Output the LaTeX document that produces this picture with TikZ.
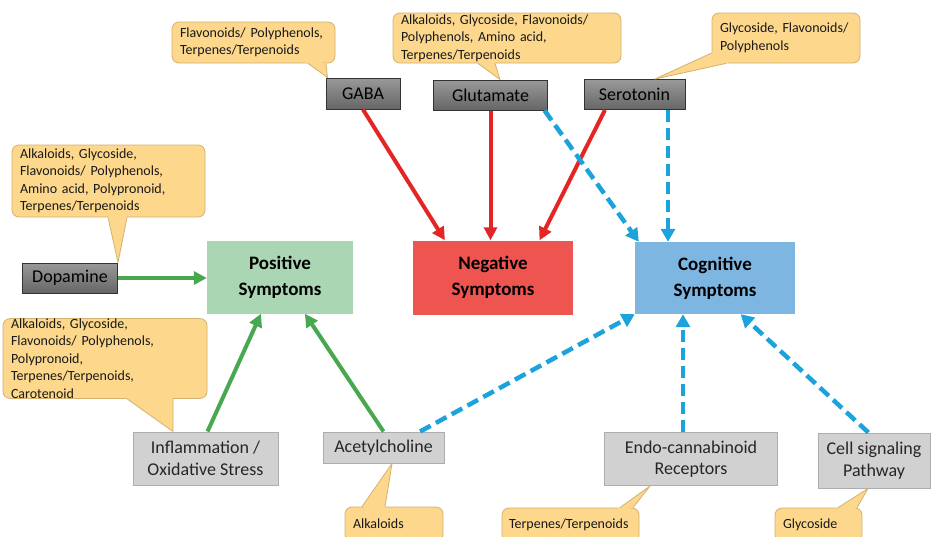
\documentclass[tikz,border=0pt]{standalone}
\usepackage{fontspec}
\setmainfont{Carlito}
\usetikzlibrary{arrows.meta,calc}

\definecolor{calloutbg}{RGB}{252,215,140}
\definecolor{calloutrim}{RGB}{212,178,112}
\definecolor{posgreen}{RGB}{170,214,180}
\definecolor{negred}{RGB}{238,84,80}
\definecolor{cogblue}{RGB}{126,182,226}
\definecolor{arrowred}{RGB}{228,37,38}
\definecolor{arrowgreen}{RGB}{72,168,80}
\definecolor{arrowcyan}{RGB}{28,163,220}

% pointer of a callout: callout node, base point, tip, base point
\newcommand{\calloutwedge}[4]{%
  \fill[calloutbg] ($(#2)!0.12!(#1.center)$) -- (#2) -- (#3) -- (#4) -- ($(#4)!0.12!(#1.center)$) -- cycle;
  \draw[calloutrim, line width=0.8pt, line join=round] (#2) -- (#3) -- (#4);}

\begin{document}
\begin{tikzpicture}[x=1pt, y=-1pt,
    callbox/.style={rectangle, rounded corners=7pt, fill=calloutbg, draw=calloutrim, line width=0.8pt,
      align=left, inner xsep=8pt, inner ysep=1pt, text=black!90,
      font=\fontsize{14}{17.5}\selectfont},
    darkbox/.style={rectangle, top color=black!40, bottom color=black!60, draw=black!80, line width=1pt,
      inner sep=0pt, text=black, font=\fontsize{18}{21.5}\selectfont},
    lightbox/.style={rectangle, fill=black!18, draw=black!32, line width=1pt, align=center,
      inner sep=0pt, text=black!85, font=\fontsize{18}{21.5}\selectfont},
    symbox/.style={rectangle, align=center, inner sep=0pt, font=\fontsize{19}{26}\selectfont\bfseries},
    redarrow/.style={draw=arrowred, line width=4pt, -{Triangle[length=13pt,width=13pt]}},
    greenarrow/.style={draw=arrowgreen, line width=4pt, -{Triangle[length=13pt,width=13pt]}},
    cyanarrow/.style={draw=arrowcyan, line width=4.5pt, dash pattern=on 12pt off 6pt,
      -{Triangle[length=13pt,width=14pt]}}]
    \fill[white] (0,0) rectangle (933,536);
    \useasboundingbox (0,0) rectangle (933,536);

    % transmitters and pathways
    \node[darkbox, minimum width=74pt, minimum height=31pt] (gaba) at (363,93.5) {GABA};
    \node[darkbox, minimum width=114pt, minimum height=30pt] (glut) at (490.5,95) {Glutamate};
    \node[darkbox, minimum width=101pt, minimum height=30pt] (sero) at (634.5,94.5) {Serotonin};
    \node[darkbox, minimum width=95pt, minimum height=30pt] (dopa) at (70,278) {Dopamine};
    \node[lightbox, minimum width=145pt, minimum height=53pt] (infl) at (205.5,458.5) {Inflammation /\\Oxidative Stress};
    \node[lightbox, minimum width=121pt, minimum height=31pt] (acet) at (383.5,447.5) {Acetylcholine};
    \node[lightbox, minimum width=173pt, minimum height=53pt] (endo) at (691,459) {Endo-cannabinoid\\Receptors};
    \node[lightbox, minimum width=112pt, minimum height=55pt] (cell) at (874,460.5) {Cell signaling\\Pathway};

    % symptoms
    \node[symbox, fill=posgreen, minimum width=146pt, minimum height=73pt] (pos) at (280,277) {Positive\\Symptoms};
    \node[symbox, fill=negred, minimum width=160pt, minimum height=74pt] (neg) at (493,277.5) {Negative\\Symptoms};
    \node[symbox, fill=cogblue, minimum width=160pt, minimum height=72pt] (cog) at (715,278) {Cognitive\\Symptoms};

    % callouts
    \node[callbox, text width=147pt, minimum height=41pt] (cgaba) at (253.5,42.5) {Flavonoids/ Polyphenols,\\Terpenes/Terpenoids};
    \node[callbox, text width=212pt, minimum height=50pt] (cglut) at (507,38) {Alkaloids, Glycoside, Flavonoids/\\Polyphenols, Amino acid,\\Terpenes/Terpenoids};
    \node[callbox, text width=132pt, minimum height=50pt] (csero) at (786,38) {Glycoside, Flavonoids/\\Polyphenols};
    \node[callbox, text width=177pt, minimum height=72pt] (cdopa) at (108.5,181) {Alkaloids, Glycoside,\\Flavonoids/ Polyphenols,\\Amino acid, Polypronoid,\\Terpenes/Terpenoids};
    \node[callbox, text width=188pt, minimum height=77pt, inner ysep=0pt] (cinfl) at (105,358.5) {Alkaloids, Glycoside,\\Flavonoids/ Polyphenols,\\Polypronoid,\\Terpenes/Terpenoids,\\Carotenoid};
    \node[callbox, text width=82pt, minimum height=34pt] (calk) at (394,524) {Alkaloids};
    \node[callbox, text width=123pt, minimum height=34pt, inner xsep=7pt] (cterp) at (570.5,525) {Terpenes/Terpenoids};
    \node[callbox, text width=71pt, minimum height=34pt] (ccell) at (818.5,525) {Glycoside};

    \calloutwedge{cgaba}{308,0 |- cgaba.south}{[xshift=2pt]gaba.north west}{326,0 |- cgaba.south}
    \calloutwedge{cglut}{478,0 |- cglut.south}{500,0 |- glut.north}{495,0 |- cglut.south}
    \calloutwedge{csero}{csero.west |- 0,53}{655,0 |- sero.north}{726,0 |- csero.south}
    \calloutwedge{cdopa}{108,0 |- cdopa.south}{dopa.north east}{127,0 |- cdopa.south}
    \calloutwedge{cinfl}{127,0 |- cinfl.south}{173,0 |- infl.north}{173,0 |- cinfl.south}
    \calloutwedge{calk}{362,0 |- calk.north}{392,0 |- acet.south}{385,0 |- calk.north}
    \calloutwedge{cterp}{620,0 |- cterp.north}{650,0 |- endo.south}{633,0 |- cterp.north}
    \calloutwedge{ccell}{838,0 |- ccell.north}{868,0 |- cell.south}{857,0 |- ccell.north}

    % arrows
    \draw[redarrow] (gaba.south) -- ($(neg.north west)!0.2!(neg.north east)$);
    \draw[redarrow] (glut.south) -- (glut.south |- neg.north);
    \draw[redarrow] ($(sero.south west)!0.21!(sero.south east)$) -- ($(neg.north west)!0.79!(neg.north east)$);
    \draw[cyanarrow] ($(glut.south west)!0.97!(glut.south east)$) -- ([xshift=4pt]cog.north west);
    \draw[cyanarrow] (668,0 |- sero.south) -- (668,0 |- cog.north);
    \draw[greenarrow] (dopa.east) -- (dopa.east -| pos.west);
    \draw[greenarrow] ([xshift=2pt]infl.north) -- ($(pos.south west)!0.37!(pos.south east)$);
    \draw[greenarrow] (acet.north) -- ($(pos.south west)!0.67!(pos.south east)$);
    \draw[cyanarrow] ($(acet.north west)!0.8!(acet.north east)$) -- (cog.south west);
    \draw[cyanarrow] (683,0 |- endo.north) -- (683,0 |- cog.south);
    \draw[cyanarrow] ($(cell.north west)!0.45!(cell.north east)$) -- ($(cog.south west)!0.66!(cog.south east)$);
\end{tikzpicture}
\end{document}
